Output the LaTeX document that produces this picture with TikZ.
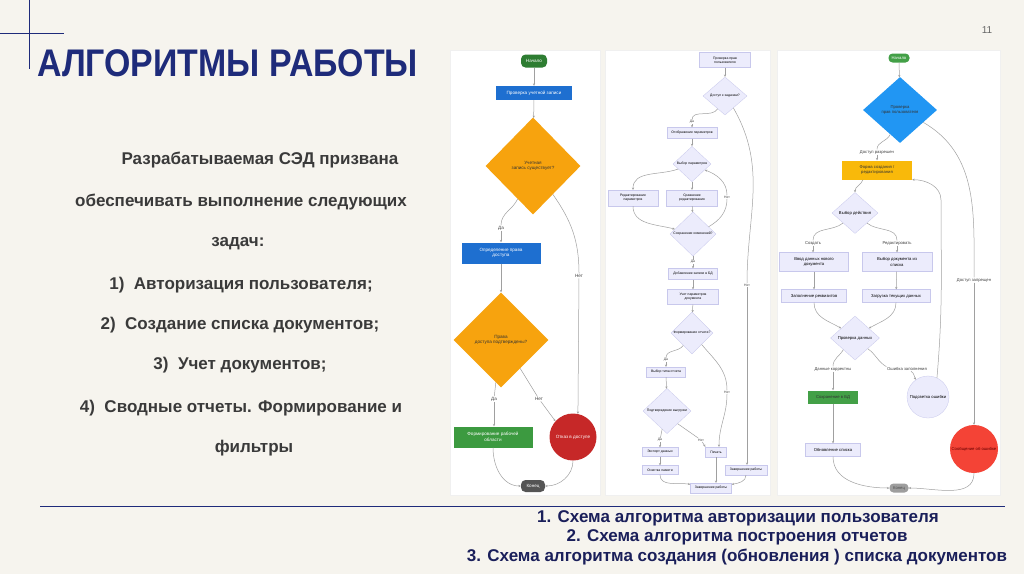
\documentclass[tikz,border=0pt]{standalone}
\usepackage{fontspec}
\setmainfont{Liberation Sans}
\usetikzlibrary{shapes.geometric,arrows.meta}
\definecolor{bg}{HTML}{F6F4EE}
\definecolor{navy}{HTML}{1E2B7A}
\definecolor{capnavy}{HTML}{1A1F5A}
\definecolor{bodytxt}{HTML}{3A3A3A}
\definecolor{green1}{HTML}{2E7D32}
\definecolor{green2}{HTML}{3C9A40}
\definecolor{green3}{HTML}{43A047}
\definecolor{blue1}{HTML}{1E6FD0}
\definecolor{blue3}{HTML}{2196F3}
\definecolor{orange1}{HTML}{F7A30E}
\definecolor{amber}{HTML}{F9B90A}
\definecolor{red1}{HTML}{C62828}
\definecolor{red3}{HTML}{F44336}
\definecolor{gray1}{HTML}{555555}
\definecolor{gray3}{HTML}{9E9E9E}
\definecolor{lavfill}{HTML}{ECECFC}
\definecolor{lavdraw}{HTML}{C8C8EC}
\definecolor{linegray}{HTML}{A0A0A0}
\begin{document}
\begin{tikzpicture}[x=1pt,y=1pt,
  fca/.style={font=\fontsize{4.6}{5.6}\selectfont, align=center, inner sep=0.5pt},
  fcb/.style={font=\fontsize{3.4}{4.2}\selectfont, align=center, inner sep=0.5pt},
  fcc/.style={font=\fontsize{4.2}{5.2}\selectfont, align=center, inner sep=0.5pt},
  boxa/.style={fca, rectangle},
  pill/.style={rectangle, rounded corners=4.5pt, inner sep=0.5pt},
  lav/.style={rectangle, fill=lavfill, draw=lavdraw, line width=0.3pt},
  lavd/.style={diamond, fill=lavfill, draw=lavdraw, line width=0.3pt, inner sep=0pt},
  dia/.style={diamond, inner sep=0pt},
  conn/.style={draw=linegray, line width=0.5pt, -{Stealth[length=2.4pt,width=2.2pt]}},
  plain/.style={draw=linegray, line width=0.5pt},
  lbla/.style={fca, fill=white, inner sep=0.6pt, text=black!75},
  lblb/.style={fcb, fill=white, inner sep=0.5pt, text=black!75},
  lblc/.style={fcc, fill=white, inner sep=0.6pt, text=black!75},
  body/.style={font=\fontsize{17}{20}\selectfont\bfseries, text=bodytxt, anchor=base},
  captxt/.style={font=\fontsize{17}{20}\selectfont\bfseries, text=capnavy, anchor=base}
]
\useasboundingbox (0,0) rectangle (1024,-574);
\fill[bg] (0,0) rectangle (1024,-574);

% decoration
\draw[navy, line width=1pt] (29,0) -- (29,-69);
\draw[navy, line width=1pt] (0,-33) -- (64,-33);
\draw[navy, line width=0.8pt] (40,-506) -- (1005,-506);
\node[anchor=base west, font=\fontsize{38.5}{40}\selectfont\bfseries, text=navy, inner sep=0, xscale=0.88, transform shape] (title) at (37,-76) {АЛГОРИТМЫ РАБОТЫ};
\node[font=\fontsize{10}{12}\selectfont, text=black!60] (pnum) at (987,-30) {11};

% body text
\node[body] (t1) at (260,-164) {Разрабатываемая СЭД призвана};
\node[body] (t2) at (241,-206) {обеспечивать выполнение следующих};
\node[body] (t3) at (238,-246) {задач:};
\node[body] (t4) at (241,-289) {1)\ \ Авторизация пользователя;};
\node[body] (t5) at (240,-329) {2)\ \ Создание списка документов;};
\node[body] (t6) at (240,-369) {3)\ \ Учет документов;};
\node[body] (t7) at (241,-412) {4)\ \ Сводные отчеты. Формирование и};
\node[body] (t8) at (254,-452) {фильтры};

% captions
\node[captxt] (k1) at (738,-522) {1. Схема алгоритма авторизации пользователя};
\node[captxt] (k2) at (737,-541) {2. Схема алгоритма построения отчетов};
\node[captxt] (k3) at (737,-561) {3. Схема алгоритма создания (обновления ) списка документов};

% panels
\filldraw[fill=white, draw=black!6] (450,-50) rectangle (600,-495);
\filldraw[fill=white, draw=black!6] (605,-50) rectangle (770,-495);
\filldraw[fill=white, draw=black!6] (777,-50) rectangle (1000,-495);

% ---------------- chart 1 ----------------
\node[pill, fca, fill=green1, text=white, minimum width=26, minimum height=13] (c1s) at (534,-61) {Начало};
\node[boxa, fill=blue1, text=white, minimum width=76, minimum height=14] (c1a) at (534,-93) {Проверка учетной записи};
\node[dia, fca, fill=orange1, text=black!80, minimum width=95, minimum height=97] (c1d) at (533,-166) {Учетная\\запись существует?};
\node[lbla] (c1da) at (501,-228) {Да};
\node[boxa, fill=blue1, text=white, minimum width=79, minimum height=21] (c1b) at (501,-253) {Определение права\\доступа};
\node[lbla] (c1net) at (579,-276) {Нет};
\node[dia, fca, fill=orange1, text=black!80, minimum width=95, minimum height=95] (c1d2) at (501,-340) {Права\\доступа подтверждены?};
\node[lbla] (c1da2) at (494,-399) {Да};
\node[lbla] (c1net2) at (539,-399) {Нет};
\node[boxa, fill=green2, text=white, minimum width=79, minimum height=21] (c1g) at (493,-437) {Формирование рабочей\\области};
\node[circle, fca, fill=red1, text=white, minimum size=47] (c1r) at (573,-437) {Отказ в доступе};
\node[pill, fca, fill=gray1, text=white, minimum width=24, minimum height=12] (c1e) at (533,-486) {Конец};

\draw[conn] (c1s) -- (c1a);
\draw[conn] (c1a) -- (c1d);
\draw[plain] (c1d.-115) to[out=-115,in=90] (c1da.north);
\draw[conn] (c1da) -- (c1b);
\draw[plain] (c1d.-55) to[out=-55,in=90] (c1net.north);
\draw[conn] (c1net) -- (c1r.78);
\draw[conn] (c1b) -- (c1d2);
\draw[plain] (c1d2.-97) -- (c1da2);
\draw[conn] (c1da2) -- (c1g.north -| c1da2);
\draw[plain] (c1d2.-56) -- (c1net2);
\draw[conn] (c1net2) -- (c1r.138);
\draw[conn] (c1g.south) to[out=-90,in=180] (c1e.west);
\draw[conn] (c1r.south) to[out=-90,in=0] (c1e.east);

% ---------------- chart 2 ----------------
\node[lav, fcb, minimum width=51, minimum height=15] (t2a) at (725,-60) {Проверка прав\\пользователя};
\node[lavd, fcb, minimum width=44, minimum height=38] (d2a) at (725,-96) {Доступ к задачам?};
\node[lblb] (l2da) at (692,-122) {Да};
\node[lav, fcb, minimum width=50, minimum height=11] (b2b) at (692,-133) {Отображение параметров};
\node[lavd, fcb, minimum width=38, minimum height=34] (d2b) at (692,-164) {Выбор параметров};
\node[lav, fcb, minimum width=50, minimum height=16] (b2c) at (633,-198) {Редактирование\\параметров};
\node[lav, fcb, minimum width=51, minimum height=16] (b2d) at (692,-198) {Сравнение\\редактирования};
\node[lblb] (l2net1) at (727,-197) {Нет};
\node[lavd, fcb, minimum width=46, minimum height=40] (d2c) at (693,-234) {Сохранение изменений?};
\node[lblb] (l2da2) at (693,-262) {Да};
\node[lav, fcb, minimum width=49, minimum height=11] (b2e) at (693,-274) {Добавление записи в БД};
\node[lav, fcb, minimum width=51, minimum height=15] (b2f) at (693,-297) {Учет параметров\\документа};
\node[lblb] (l2net2) at (747,-285) {Нет};
\node[lavd, fcb, minimum width=42, minimum height=38] (d2d) at (692,-333) {Формирование отчета?};
\node[lblb] (l2da3) at (666,-360) {Да};
\node[lav, fcb, minimum width=39, minimum height=10] (b2g) at (666,-372) {Выбор типа отчета};
\node[lblb] (l2net3) at (727,-392) {Нет};
\node[lavd, fcb, minimum width=48, minimum height=44] (d2e) at (667,-411) {Подтверждение выгрузки};
\node[lblb] (l2da4) at (660,-440) {Да};
\node[lblb] (l2net4) at (701,-440) {Нет};
\node[lav, fcb, minimum width=36, minimum height=9] (b2h) at (660,-452) {Экспорт данных};
\node[lav, fcb, minimum width=21, minimum height=10] (b2i) at (716,-452) {Печать};
\node[lav, fcb, minimum width=36, minimum height=9] (b2j) at (660,-470) {Очистка памяти};
\node[lav, fcb, minimum width=42, minimum height=10] (b2k) at (746,-470) {Завершение работы};
\node[lav, fcb, minimum width=41, minimum height=10] (b2l) at (711,-488) {Завершение работы};

\draw[conn] (t2a) -- (d2a);
\draw[plain] (d2a.-120) to[out=-120,in=90] (l2da.north);
\draw[conn] (l2da) -- (b2b);
\draw[plain] (d2a.-55) to[out=-60,in=90] (l2net2.north);
\draw[conn] (l2net2) -- (b2k.north -| l2net2);
\draw[conn] (b2b) -- (d2b);
\draw[conn] (d2b.-160) to[out=200,in=90] (b2c.north);
\draw[conn] (d2b) -- (b2d);
\draw[conn] (b2c.south) to[out=-90,in=165] (d2c.165);
\draw[conn] (b2d) -- (d2c);
\draw[plain] (d2c.25) to[out=30,in=-90] (l2net1.south);
\draw[conn] (l2net1.north) to[out=90,in=-20] (d2b.-25);
\draw[plain] (d2c) -- (l2da2);
\draw[conn] (l2da2) -- (b2e);
\draw[conn] (b2e) -- (b2f);
\draw[conn] (b2f) -- (d2d);
\draw[plain] (d2d.-125) to[out=-125,in=90] (l2da3.north);
\draw[conn] (l2da3) -- (b2g);
\draw[plain] (d2d.-50) to[out=-50,in=90] (l2net3.north);
\draw[conn] (l2net3) to[out=-90,in=90] (b2i.60);
\draw[conn] (b2g) -- (d2e);
\draw[plain] (d2e.-105) -- (l2da4);
\draw[conn] (l2da4) -- (b2h);
\draw[plain] (d2e.-50) -- (l2net4);
\draw[conn] (l2net4) -- (b2i.north west);
\draw[conn] (b2h) -- (b2j);
\draw[conn] (b2j.south) to[out=-90,in=170] (b2l.170);
\draw[conn] (b2i.south) -- (b2i.south |- b2l.north);
\draw[conn] (b2k.south) to[out=-90,in=10] (b2l.10);

% ---------------- chart 3 ----------------
\node[pill, fcc, fill=green3, text=white, minimum width=21, minimum height=9, rounded corners=4pt] (s3) at (899,-58) {Начало};
\node[dia, fcc, fill=blue3, text=black!80, minimum width=74, minimum height=66] (d3a) at (900,-110) {Проверка\\прав пользователя};
\node[lblc] (l3a) at (877,-152) {Доступ разрешен};
\node[boxa, fcc, fill=amber, text=black!80, minimum width=70, minimum height=19] (b3a) at (877,-170) {Форма создания /\\редактирования};
\node[lavd, fcc, minimum width=46, minimum height=41] (d3b) at (855,-213) {Выбор действия};
\node[lblc] (l3c) at (813,-243) {Создать};
\node[lblc] (l3e) at (897,-243) {Редактировать};
\node[lav, fcc, minimum width=69, minimum height=19] (b3b) at (814,-262) {Ввод данных нового\\документа};
\node[lav, fcc, minimum width=70, minimum height=19] (b3c) at (897,-262) {Выбор документа из\\списка};
\node[lblc] (l3net) at (974,-280) {Доступ запрещен};
\node[lav, fcc, minimum width=65, minimum height=13] (b3d) at (814,-296) {Заполнение реквизитов};
\node[lav, fcc, minimum width=68, minimum height=13] (b3e) at (896,-296) {Загрузка текущих данных};
\node[lavd, fcc, minimum width=49, minimum height=44] (d3c) at (855,-338) {Проверка данных};
\node[lblc] (l3ok) at (833,-369) {Данные корректны};
\node[lblc] (l3err) at (907,-369) {Ошибка заполнения};
\node[boxa, fcc, fill=green3, text=black!80, minimum width=50, minimum height=13] (b3f) at (833,-397) {Сохранение в БД};
\node[circle, fcc, fill=lavfill, draw=lavdraw, line width=0.3pt, minimum size=42] (c3a) at (928,-397) {Подсветка ошибки};
\node[lav, fcc, minimum width=55, minimum height=13] (b3g) at (833,-450) {Обновление списка};
\node[circle, fcc, fill=red3, text=red!40!black, minimum size=48] (c3b) at (974,-449) {Сообщение об ошибке};
\node[pill, fcc, fill=gray3, text=black!70, minimum width=19, minimum height=9, rounded corners=4pt] (e3) at (899,-488) {Конец};
\coordinate (c3loop) at (941,-200);

\draw[conn] (s3) -- (d3a);
\draw[plain] (d3a.-112) to[out=-112,in=90] (l3a.north);
\draw[conn] (l3a) -- (b3a);
\draw[plain] (d3a.-28) to[out=-30,in=90] (l3net.north);
\draw[conn] (l3net) -- (c3b);
\draw[conn] ([xshift=8pt]b3a.south -| d3b.north) to[out=-110,in=90] (d3b.north);
\draw[plain] (d3b.-140) to[out=-140,in=90] (l3c.north);
\draw[conn] (l3c) -- (b3b.north -| l3c);
\draw[plain] (d3b.-40) to[out=-40,in=90] (l3e.north);
\draw[conn] (l3e) -- (b3c);
\draw[conn] (b3b) -- (b3d);
\draw[conn] (b3c) -- (b3e);
\draw[conn] (b3d.south) to[out=-90,in=150] (d3c.145);
\draw[conn] (b3e.south) to[out=-90,in=30] (d3c.35);
\draw[plain] (d3c.-135) to[out=-120,in=90] (l3ok.north);
\draw[conn] (l3ok) -- (b3f);
\draw[plain] (d3c.-40) to[out=-35,in=150] (l3err.north west);
\draw[conn] (l3err) to[out=-30,in=120] (c3a.125);
\draw[conn] (c3a.65) to[out=85,in=-90] (c3loop) to[out=90,in=0] (b3a.south east);
\draw[conn] (b3f) -- (b3g);
\draw[conn] (b3g.south) to[out=-90,in=180] (e3.west);
\draw[conn] (c3b.south) to[out=-90,in=0] (e3.east);
\end{tikzpicture}
\end{document}
